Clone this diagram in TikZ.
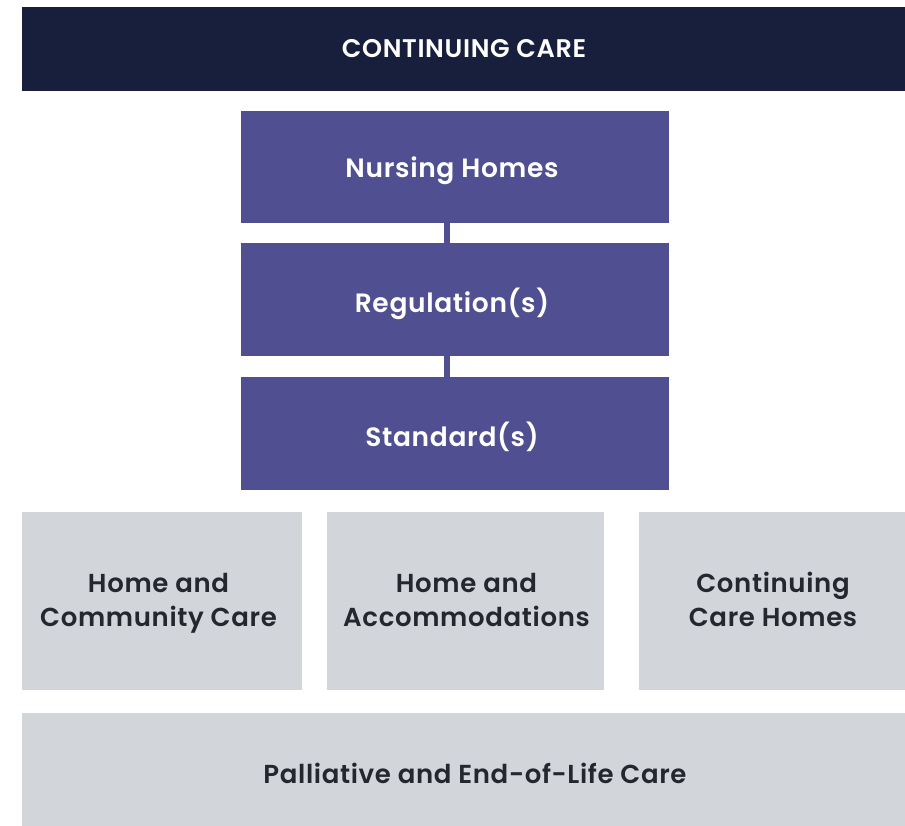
\documentclass[tikz,border=0pt]{standalone}
\usepackage{fontspec}
\setmainfont{Poppins}[UprightFont=* SemiBold, BoldFont=* SemiBold, LetterSpace=2.5]
\usetikzlibrary{positioning}
\definecolor{navy}{HTML}{171F3C}
\definecolor{violet}{HTML}{4F4F91}
\definecolor{lightgrey}{HTML}{D2D5DA}
\definecolor{ink}{HTML}{26262E}
\begin{document}
\begin{tikzpicture}[x=1pt,y=-1pt,
  banner/.style={fill=navy,text=white,font=\fontsize{25.5}{29}\selectfont},
  tierbox/.style={fill=violet,text=white,font=\fontsize{26.5}{31}\selectfont},
  areabox/.style={fill=lightgrey,text=ink,font=\fontsize{26}{34}\selectfont,align=center},
  link/.style={draw=violet,line width=6pt}]
\useasboundingbox (0,0) rectangle (905,826);
% header band
\fill[navy] (22,7) rectangle (905,91);
\node[banner] (hdr) at (464,49) {CONTINUING CARE};
% regulatory stack
\fill[violet] (241,111) rectangle (669,223);
\node[tierbox] (nh) at (452,171) {Nursing Homes};
\fill[violet] (241,243) rectangle (669,356);
\node[tierbox] (reg) at (452,304) {Regulation(s)};
\fill[violet] (241,377) rectangle (669,490);
\node[tierbox] (std) at (452,437) {Standard(s)};
\coordinate (c1) at (446.5,222);
\coordinate (c2) at (446.5,244);
\coordinate (c3) at (446.5,355);
\coordinate (c4) at (446.5,378);
\draw[link] (c1) -- (c2);
\draw[link] (c3) -- (c4);
% care settings
\fill[lightgrey] (22,512) rectangle (301.5,690);
\node[areabox] (hcc) at (158.5,603) {Home and\\Community Care};
\fill[lightgrey] (327,512) rectangle (604,690);
\node[areabox] (ha) at (466.5,600) {Home and\\Accommodations};
\fill[lightgrey] (639,512) rectangle (905,690);
\node[areabox] (cch) at (773,599.5) {Continuing\\Care Homes};
\fill[lightgrey] (22,713) rectangle (905,826);
\node[areabox] (pal) at (475,773) {Palliative and End-of-Life Care};
\end{tikzpicture}
\end{document}
